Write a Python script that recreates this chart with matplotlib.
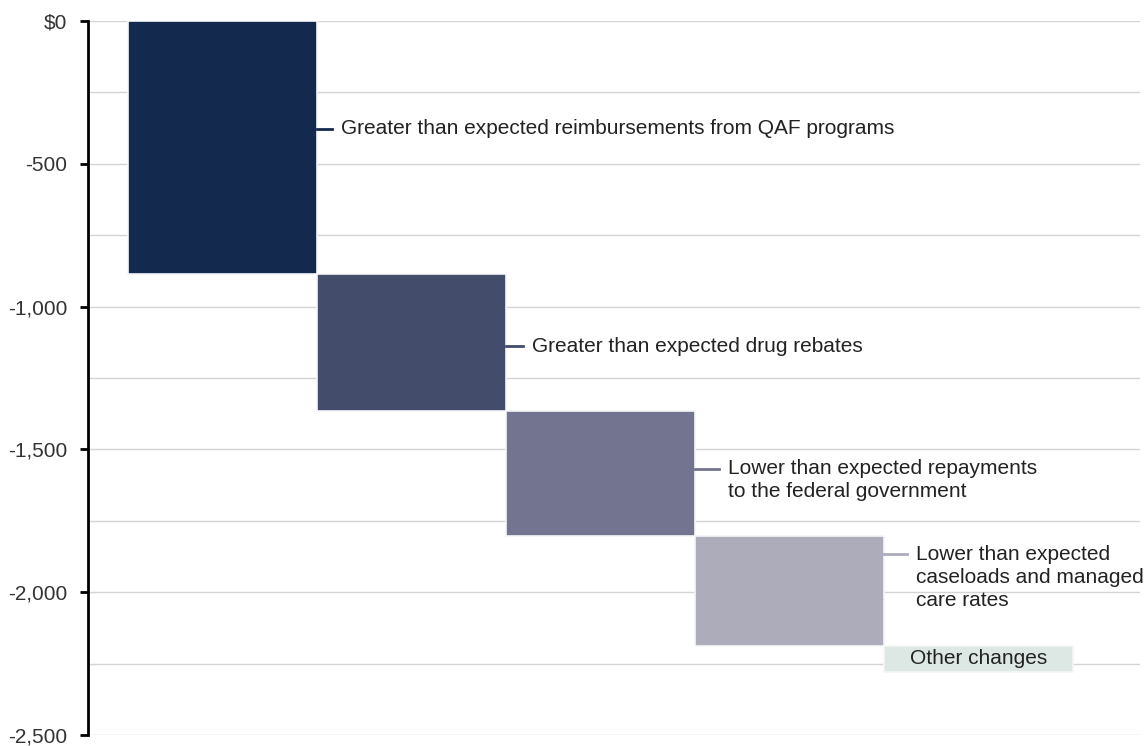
import matplotlib.pyplot as plt
import numpy as np

plt.rcParams['font.family'] = ['Liberation Sans', 'DejaVu Sans']

# waterfall steps (change in $ millions)
labels = ['Greater than expected reimbursements from QAF programs',
          'Greater than expected drug rebates',
          'Lower than expected repayments\nto the federal government',
          'Lower than expected\ncaseloads and managed\ncare rates',
          'Other changes']
changes = [-885, -480, -440, -383, -92]
label_y = [-377, -1138, -1568, -1868]
colors = ['#132a4e', '#434d6b', '#73748f', '#adacbb', '#dde8e5']

ends = np.cumsum(changes)
starts = ends - np.array(changes)

fig = plt.figure(figsize=(11.46, 7.46), dpi=100)
ax = fig.add_axes([0.0768, 0.0148, 0.918, 0.9570])

x = np.arange(len(changes))
ax.bar(x, changes, bottom=starts, width=1.0, color=colors,
       edgecolor='#f4f6f8', linewidth=1.2, zorder=3)

# connector length and text gap (in bar widths)
conn = [0.08, 0.09, 0.125, 0.12]
gap = [0.045, 0.045, 0.05, 0.05]
fs = 15
for i in range(4):
    x0 = i + 0.5
    ax.plot([x0, x0 + conn[i]], [label_y[i], label_y[i]],
            color=colors[i], lw=2, zorder=3)
    if '\n' in labels[i]:
        ax.annotate(labels[i], xy=(x0 + conn[i] + gap[i], label_y[i]),
                    xytext=(0, 7), textcoords='offset points',
                    va='top', ha='left', fontsize=fs, color='#222222',
                    linespacing=1.28)
    else:
        ax.text(x0 + conn[i] + gap[i], label_y[i], labels[i], va='center',
                ha='left', fontsize=fs, color='#222222')

ax.text(4, (starts[4] + ends[4]) / 2, labels[4], ha='center', va='center',
        fontsize=fs, color='#222222', zorder=4)

ax.set_xlim(-0.712, 4.854)
ax.set_ylim(-2500, 0)
ax.set_yticks(np.arange(-2500, 1, 500))
ax.set_yticklabels(['-2,500', '-2,000', '-1,500', '-1,000', '-500', '$0'])
ax.set_yticks(np.arange(-2500, 1, 250), minor=True)
ax.tick_params(axis='y', which='major', length=6, width=2, labelsize=fs,
               pad=9, colors='black', labelcolor='#333333')
ax.tick_params(axis='y', which='minor', length=0)
ax.set_xticks([])
ax.grid(axis='y', which='both', color='#d4d4d4', lw=1, zorder=0)
ax.set_axisbelow(True)

for s in ['top', 'right', 'bottom']:
    ax.spines[s].set_visible(False)
ax.spines['left'].set_linewidth(2)

fig.savefig('out.png', dpi=100)
